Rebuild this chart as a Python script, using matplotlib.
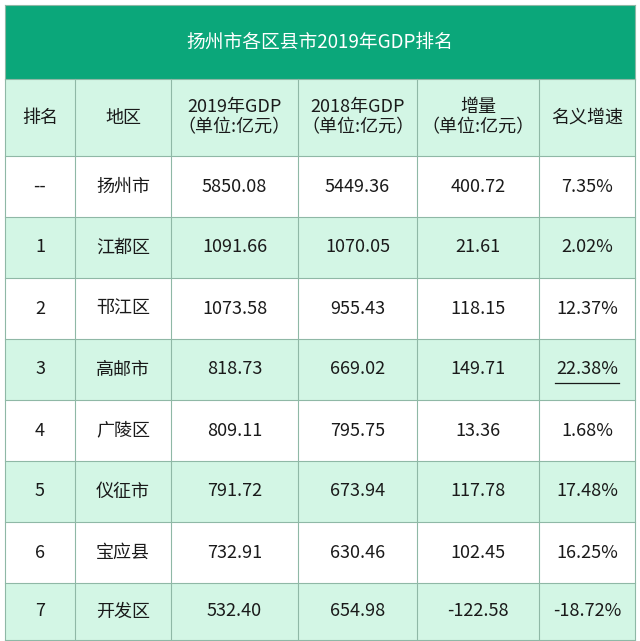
import matplotlib
matplotlib.use("Agg")
import matplotlib.pyplot as plt
from matplotlib.patches import Rectangle

plt.rcParams['font.family'] = ['Noto Sans CJK SC']

title = "扬州市各区县市2019年GDP排名"
headers = ["排名", "地区", "2019年GDP\n（单位:亿元）", "2018年GDP\n（单位:亿元）", "增量\n（单位:亿元）", "名义增速"]
ranks = ["--", "1", "2", "3", "4", "5", "6", "7"]
regions = ["扬州市", "江都区", "邗江区", "高邮市", "广陵区", "仪征市", "宝应县", "开发区"]
gdp2019 = ["5850.08", "1091.66", "1073.58", "818.73", "809.11", "791.72", "732.91", "532.40"]
gdp2018 = ["5449.36", "1070.05", "955.43", "669.02", "795.75", "673.94", "630.46", "654.98"]
increase = ["400.72", "21.61", "118.15", "149.71", "13.36", "117.78", "102.45", "-122.58"]
growth = ["7.35%", "2.02%", "12.37%", "22.38%", "1.68%", "17.48%", "16.25%", "-18.72%"]

cols = [5, 75, 171, 298, 417, 539, 635]
title_top, title_bot = 5, 79
row_edges = [79, 156, 217, 278, 339, 400, 461, 522, 583, 640]

GREEN = "#0ba77a"
MINT = "#d3f6e5"
LINE = "#8fb8a6"

fig = plt.figure(figsize=(6.4, 6.41), dpi=100)
ax = fig.add_axes([0, 0, 1, 1])
ax.set_xlim(0, 640)
ax.set_ylim(641, 0)
ax.axis("off")

ax.add_patch(Rectangle((cols[0], title_top), cols[-1]-cols[0], title_bot-title_top, color=GREEN, lw=0))
ax.text((cols[0]+cols[-1])/2, (title_top+title_bot)/2, title, color="white", fontsize=13.5,
        ha="center", va="center")

data_cols = [ranks, regions, gdp2019, gdp2018, increase, growth]
rows = [headers] + [[c[i] for c in data_cols] for i in range(len(ranks))]
for r, row in enumerate(rows):
    y0, y1 = row_edges[r], row_edges[r+1]
    fc = MINT if r % 2 == 0 else "white"
    ax.add_patch(Rectangle((cols[0], y0), cols[-1]-cols[0], y1-y0, facecolor=fc, edgecolor="none"))
    for c, txt in enumerate(row):
        xc = (cols[c]+cols[c+1])/2
        yc = (y0+y1)/2
        ax.text(xc, yc, txt, ha="center", va="center", fontsize=13, color="#1a1a1a",
                linespacing=1.15)
        if txt == "22.38%":
            ax.plot([xc-32, xc+32], [yc+13, yc+13], color="#1a1a1a", lw=0.9)

for y in row_edges:
    ax.plot([cols[0], cols[-1]], [y, y], color=LINE, lw=0.8)
for x in cols:
    ax.plot([x, x], [row_edges[0], row_edges[-1]], color=LINE, lw=0.8)
ax.plot([cols[0], cols[0]], [title_top, title_bot], color=LINE, lw=0.8)
ax.plot([cols[-1], cols[-1]], [title_top, title_bot], color=LINE, lw=0.8)
ax.plot([cols[0], cols[-1]], [title_top, title_top], color=LINE, lw=0.8)

fig.savefig("out.png", dpi=100, facecolor="white")
